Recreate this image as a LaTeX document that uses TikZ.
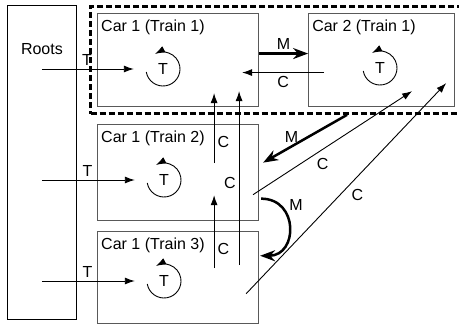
\documentclass[tikz,border=0pt]{standalone}
\usepackage{fontspec}
\setmainfont{Liberation Sans}
\usetikzlibrary{arrows.meta,fit,positioning}

\begin{document}
\begin{tikzpicture}[
  x=1pt, y=-1pt,
  every node/.style={font=\fontsize{16}{19}\selectfont},
  carbox/.style={draw=black!65, line width=1.1pt, minimum width=161pt,
                 minimum height=93pt, inner sep=0pt},
  rootbox/.style={draw, line width=0.8pt, minimum width=69pt,
                  minimum height=314pt, inner sep=0pt},
  trainbox/.style={draw, line width=2.4pt, dash pattern=on 6pt off 3pt,
                   inner sep=6.5pt},
  cartitle/.style={anchor=north west, inner xsep=4pt, inner ysep=7pt},
  rot/.style={circle, minimum size=34pt, inner sep=0pt},
  arr/.style={-{Latex[length=10pt,width=7pt]}, line width=0.9pt},
  marr/.style={-{Stealth[length=15pt,width=11pt]}, line width=2.5pt},
  spin/.style={arr},
  lbl/.style={inner sep=3pt}
]
\useasboundingbox (0,0) rectangle (459,325);

\node[rootbox, anchor=north west] (roots) at (7,5) {};
\node (rootslbl) at ([yshift=-44pt]roots.north) {Roots};

\node[carbox, anchor=north west] (c11) at (97,13) {};
\node[carbox, minimum width=146pt, right=49pt of c11] (c21) {};
\node[carbox, minimum height=96pt, below=17pt of c11] (c12) {};
\node[carbox, minimum height=92pt, below=10pt of c12] (c13) {};
\node[trainbox, fit=(c11)(c21)] (train1) {};

\node[cartitle] (t11) at (c11.north west) {Car 1 (Train 1)};
\node[cartitle] (t21) at (c21.north west) {Car 2 (Train 1)};
\node[cartitle] (t12) at (c12.north west) {Car 1 (Train 2)};
\node[cartitle] (t13) at (c13.north west) {Car 1 (Train 3)};

\node[rot] (r11) at (163,69) {T};
\node[rot] (r21) at (380,68) {T};
\node[rot] (r12) at (164,180) {T};
\node[rot] (r13) at (164,281) {T};

\foreach \r in {r11,r21,r12,r13}
  \draw[spin] ([shift={(170:17)}]\r.center) arc[start angle=170, end angle=-118, radius=17];

% roots into each train
\draw[arr] (roots.center |- r11) -- ([xshift=-12pt]r11.west) node[lbl,pos=0.49,above]{T};
\draw[arr] (roots.center |- r12) -- ([xshift=-12pt]r12.west) node[lbl,pos=0.49,above]{T};
\draw[arr] (roots.center |- r13) -- ([xshift=-12pt]r13.west) node[lbl,pos=0.49,above]{T};

% inside train 1
\draw[marr] ([yshift=6.5pt]c11.east) -- ([yshift=6.5pt]c21.west) node[lbl,midway,above]{M};
\draw[arr] ([shift={(16,12.5)}]c21.west) -- ([shift={(-17,12.5)}]c11.east) node[lbl,midway,below]{C};

% upward references
\draw[arr] ([shift={(-45,39)}]c12.north east) -- ([shift={(-45,-14)}]c11.south east) node[lbl,pos=0.3,right]{C};
\draw[arr] ([shift={(-45,37)}]c13.north east) -- ([shift={(-45,-26)}]c12.south east) node[lbl,pos=0.27,right]{C};
\draw[arr] ([shift={(-20,34)}]c13.north east) -- ([shift={(-20,-16)}]c11.south east) node[lbl,pos=0.47,left]{C};

% diagonals
\draw[marr] ([xshift=71pt]train1.south) -- ([shift={(4,-10)}]c12.east) node[lbl,pos=0.66,above]{M};
\draw[arr] ([shift={(-6,22)}]c12.east) -- ([shift={(104,-16)}]c21.south west) node[lbl,pos=0.38,below right]{C};
\draw[arr] ([shift={(-13,16)}]c13.east) -- ([shift={(-9,-24)}]c21.south east) node[lbl,pos=0.51,below right]{C};
\draw[marr] ([shift={(2,26)}]c12.east) .. controls +(38,0) and +(38,0) .. ([shift={(1,-22)}]c13.east) node[lbl,pos=0.2,right=6pt]{M};
\end{tikzpicture}
\end{document}
